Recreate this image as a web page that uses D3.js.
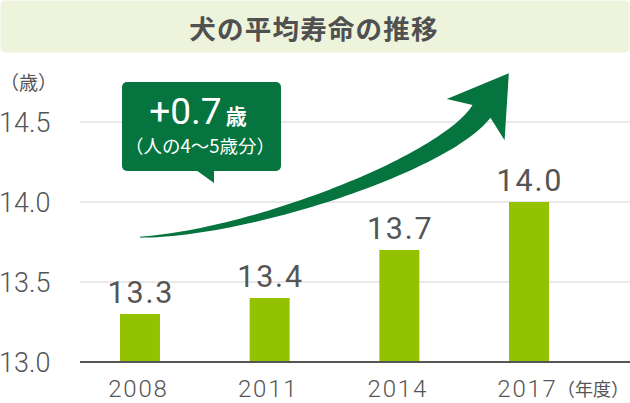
<!DOCTYPE html>
<html>
<head>
<meta charset="utf-8">
<script src="https://cdn.jsdelivr.net/npm/d3@7/dist/d3.min.js"></script>
<style>
  html, body { margin: 0; padding: 0; background: #fff; }
  svg { display: block; }
  text { font-family: Roboto, "Noto Sans CJK JP", sans-serif; }
</style>
</head>
<body>
<svg id="chart" width="630" height="403"></svg>
<script>
// ---- data ----
const title = "犬の平均寿命の推移";
const years = ["2008", "2011", "2014", "2017"];
const lifespans = [13.3, 13.4, 13.7, 14.0];
const yTicks = [13.0, 13.5, 14.0, 14.5];
const yUnit = "（歳）";
const xUnit = "（年度）";
const calloutMain = "+0.7";
const calloutUnit = "歳";
const calloutSub = "（人の4〜5歳分）";

// ---- setup ----
const W = 630, H = 403;
const svg = d3.select("#chart");
const textColor = "#555555";
const barColor = "#93c300";
const darkGreen = "#05743e";

const x = d3.scaleBand()
  .domain(years)
  .range([74.6, 594.4])
  .paddingInner(0.6915)
  .paddingOuter(0.35);

const y = d3.scaleLinear()
  .domain([13.0, 14.5])
  .range([362, 122]);

// ---- title ----
svg.append("rect")
  .attr("x", 0.5).attr("y", 0.5)
  .attr("width", W - 1).attr("height", 52)
  .attr("rx", 5)
  .attr("fill", "#eef3db");
svg.append("text")
  .attr("x", 314).attr("y", 27)
  .attr("text-anchor", "middle")
  .attr("dominant-baseline", "central")
  .style("font-family", "'Noto Sans CJK JP', sans-serif")
  .style("font-size", "26.5px")
  .style("font-weight", 700)
  .style("letter-spacing", "1.2px")
  .attr("fill", "#505050")
  .text(title);

// ---- gridlines ----
svg.append("g").selectAll("line")
  .data(yTicks.filter(d => d > 13.0))
  .join("line")
  .attr("x1", 80).attr("x2", W)
  .attr("y1", d => y(d)).attr("y2", d => y(d))
  .attr("stroke", "#e2e2e2")
  .attr("stroke-width", 1.5);

// ---- y tick labels ----
svg.append("g").selectAll("text")
  .data(yTicks)
  .join("text")
  .attr("x", -1)
  .attr("y", d => y(d) + 9.5)
  .style("font-size", "27px")
  .style("font-weight", 300)
  .attr("fill", textColor)
  .text(d => d.toFixed(1));

svg.append("text")
  .attr("x", 0).attr("y", 90)
  .style("font-family", "'Noto Sans CJK JP', sans-serif")
  .style("font-size", "19px")
  .attr("fill", textColor)
  .text(yUnit);

// ---- bars ----
svg.append("g").selectAll("rect")
  .data(years.map((yr, i) => ({ yr, v: lifespans[i] })))
  .join("rect")
  .attr("x", d => x(d.yr))
  .attr("width", x.bandwidth())
  .attr("y", d => y(d.v))
  .attr("height", d => y(13.0) - y(d.v))
  .attr("fill", barColor);

// ---- value labels ----
svg.append("g").selectAll("text")
  .data(years.map((yr, i) => ({ yr, v: lifespans[i] })))
  .join("text")
  .attr("x", d => x(d.yr) + x.bandwidth() / 2 + 0.9)
  .attr("y", d => y(d.v) - 11)
  .attr("text-anchor", "middle")
  .style("font-size", "30.5px")
  .style("font-weight", 400)
  .style("letter-spacing", "1.8px")
  .attr("fill", textColor)
  .text(d => d.v.toFixed(1));

// ---- baseline axis ----
svg.append("line")
  .attr("x1", 80).attr("x2", W)
  .attr("y1", y(13.0)).attr("y2", y(13.0))
  .attr("stroke", "#555555")
  .attr("stroke-width", 2);

// ---- x labels ----
svg.append("g").selectAll("text")
  .data(years)
  .join("text")
  .attr("x", d => x(d) + x.bandwidth() / 2 - 1.5)
  .attr("y", 397)
  .attr("text-anchor", "middle")
  .style("font-size", "24px")
  .style("font-weight", 300)
  .style("letter-spacing", "1.8px")
  .attr("fill", textColor)
  .text(d => d);

svg.append("text")
  .attr("x", 557).attr("y", 396)
  .style("font-family", "'Noto Sans CJK JP', sans-serif")
  .style("font-size", "18px")
  .attr("fill", textColor)
  .text(xUnit);

// ---- big arrow annotation ----
const P0 = [x(years[0]) + x.bandwidth() / 2, y(13.78)];
const P3 = [x(years[3]) - 27.5, y(14.566)];
const P1 = [P0[0] + 110, P0[1] - 4];
const P2 = [P3[0] - 37.5, P3[1] + 52.5];
function bez(t) {
  const u = 1 - t;
  return [
    u*u*u*P0[0] + 3*u*u*t*P1[0] + 3*u*t*t*P2[0] + t*t*t*P3[0],
    u*u*u*P0[1] + 3*u*u*t*P1[1] + 3*u*t*t*P2[1] + t*t*t*P3[1]
  ];
}
function tan(t) {
  const u = 1 - t;
  const dx = 3*u*u*(P1[0]-P0[0]) + 6*u*t*(P2[0]-P1[0]) + 3*t*t*(P3[0]-P2[0]);
  const dy = 3*u*u*(P1[1]-P0[1]) + 6*u*t*(P2[1]-P1[1]) + 3*t*t*(P3[1]-P2[1]);
  const l = Math.hypot(dx, dy);
  return [dx / l, dy / l];
}
const N = 60;
const sideA = [], sideB = [];
for (let i = 0; i <= N; i++) {
  const t = i / N;
  const p = bez(t), d = tan(t);
  const n = [-d[1], d[0]];
  const w = 1 + 21 * t;
  sideA.push([p[0] - n[0] * w / 2, p[1] - n[1] * w / 2]);
  sideB.push([p[0] + n[0] * w / 2, p[1] + n[1] * w / 2]);
}
const dE = tan(1), nE = [-dE[1], dE[0]];
const E = P3;
const pt = (a, b) => [E[0] + dE[0] * a + nE[0] * b, E[1] + dE[1] * a + nE[1] * b];
const head = [pt(-10, -35.5), pt(47, 0), pt(-10, 35.5)];
const arrowPts = sideA.concat(head, sideB.slice().reverse());
svg.append("path")
  .attr("d", "M" + arrowPts.map(p => p[0].toFixed(2) + "," + p[1].toFixed(2)).join("L") + "Z")
  .attr("fill", darkGreen);

// ---- callout ----
const cb = { x: 122, y: 82, w: 159, h: 89 };
svg.append("path")
  .attr("d", `M${cb.x + 74},${cb.y + cb.h - 1} L${cb.x + 92},${cb.y + cb.h - 1} L${cb.x + 92},${cb.y + cb.h + 12} Z`)
  .attr("fill", darkGreen);
svg.append("rect")
  .attr("x", cb.x).attr("y", cb.y)
  .attr("width", cb.w).attr("height", cb.h)
  .attr("rx", 5)
  .attr("fill", darkGreen);

const t1 = svg.append("text")
  .attr("x", 198).attr("y", 124)
  .attr("text-anchor", "middle")
  .attr("fill", "#ffffff");
t1.append("tspan")
  .style("font-size", "37px")
  .style("font-weight", 400)
  .text(calloutMain);
t1.append("tspan")
  .attr("dx", 4)
  .style("font-family", "'Noto Sans CJK JP', sans-serif")
  .style("font-size", "21px")
  .style("font-weight", 700)
  .text(calloutUnit);

svg.append("text")
  .attr("x", 200).attr("y", 153)
  .attr("text-anchor", "middle")
  .style("font-family", "'Noto Sans CJK JP', sans-serif")
  .style("font-size", "18.5px")
  .attr("fill", "#ffffff")
  .text(calloutSub);
</script>
</body>
</html>
